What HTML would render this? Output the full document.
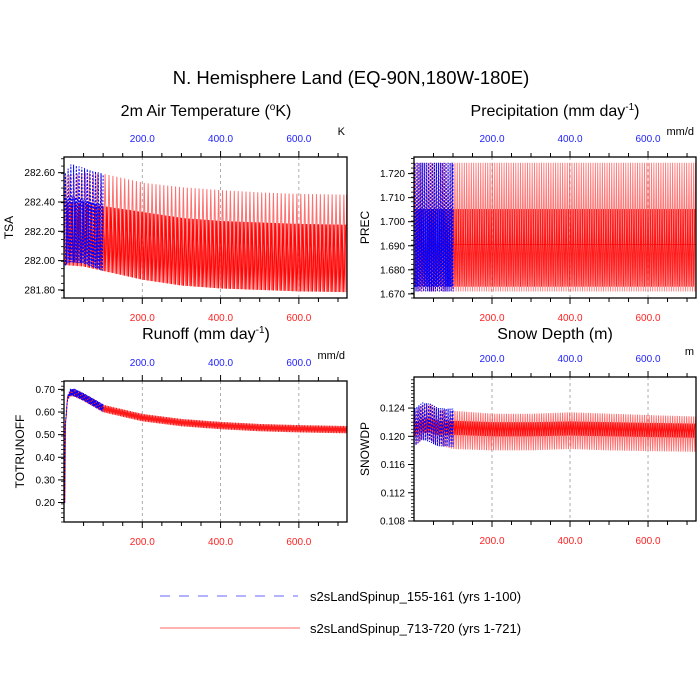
<!DOCTYPE html>
<html><head><meta charset="utf-8">
<style>
html,body{margin:0;padding:0;background:#fff;}
svg{display:block;font-family:"Liberation Sans",Arial,sans-serif;}
</style></head>
<body>
<svg id="chart" width="700" height="700" viewBox="0 0 700 700">
<text x="351" y="84" font-size="18.5" text-anchor="middle">N. Hemisphere Land (EQ-90N,180W-180E)</text>
<text x="206" y="116" font-size="16" text-anchor="middle">2m Air Temperature (<tspan font-size="10" dy="-6">o</tspan><tspan dy="6">K)</tspan></text>
<text x="555" y="116" font-size="16" text-anchor="middle">Precipitation (mm day<tspan font-size="10" dy="-6">-1</tspan><tspan dy="6">)</tspan></text>
<text x="206" y="339" font-size="16" text-anchor="middle">Runoff (mm day<tspan font-size="10" dy="-6">-1</tspan><tspan dy="6">)</tspan></text>
<text x="555" y="339" font-size="16" text-anchor="middle">Snow Depth (m)</text>
<g>
<line x1="160" y1="596" x2="298" y2="596" stroke="#6666ff" stroke-width="1" stroke-dasharray="10,9"/>
<text x="310" y="601" font-size="13">s2sLandSpinup_155-161 (yrs 1-100)</text>
<line x1="160" y1="628" x2="300" y2="628" stroke="#ff6666" stroke-width="1"/>
<text x="310" y="633" font-size="13">s2sLandSpinup_713-720 (yrs 1-721)</text>
</g>
</svg>
<script>
// ---- data (envelopes of the monthly series) ----
const tsaRedX = [0, 50, 100, 200, 300, 400, 500, 600, 722];
const tsaRedUpper = [282.58, 282.60, 282.59, 282.53, 282.50, 282.48, 282.465, 282.455, 282.45];
const tsaRedMid = [282.40, 282.39, 282.37, 282.33, 282.29, 282.27, 282.26, 282.25, 282.245];
const tsaRedLower = [281.97, 281.96, 281.93, 281.87, 281.83, 281.81, 281.80, 281.79, 281.785];
const tsaBlueX = [0, 15, 50, 100];
const tsaBlueUpper = [282.60, 282.66, 282.63, 282.59];
const tsaBlueMid = [282.42, 282.44, 282.41, 282.38];
const tsaBlueLower = [281.96, 281.99, 281.98, 281.93];

const precX = [0, 722];
const precUpper = [1.7245, 1.7245];
const precMid = [1.7053, 1.7053];
const precCenter = [1.6905, 1.6905];
const precLower = [1.671, 1.671];
const precLower2 = [1.673, 1.673];

const runX = [0, 3, 8, 15, 25, 50, 100, 200, 300, 400, 500, 600, 722];
const runRed = [0.20, 0.55, 0.66, 0.685, 0.685, 0.665, 0.615, 0.575, 0.553, 0.540, 0.531, 0.526, 0.522];
const runBlue = [0.20, 0.55, 0.66, 0.687, 0.687, 0.666, 0.617, 0.617, 0.617, 0.617, 0.617, 0.617, 0.617];
const runSpread = [0.0, 0.012, 0.014, 0.016, 0.016, 0.016, 0.016, 0.016, 0.016, 0.016, 0.016, 0.016, 0.016];

const snowX = [0, 20, 40, 60, 100, 200, 300, 400, 500, 600, 722];
const snowRedUpper = [0.1235, 0.1245, 0.1245, 0.1238, 0.1236, 0.1232, 0.1232, 0.1234, 0.1232, 0.1230, 0.1228];
const snowRedMid = [0.1220, 0.1225, 0.1225, 0.1222, 0.1222, 0.1220, 0.1220, 0.1221, 0.1220, 0.1219, 0.1218];
const snowRedLower = [0.1185, 0.1195, 0.1195, 0.1188, 0.1182, 0.1180, 0.1180, 0.1182, 0.1180, 0.1179, 0.1178];
const snowBlueUpper = [0.1240, 0.1248, 0.1246, 0.1240, 0.1239];
const snowBlueLower = [0.1185, 0.1195, 0.1192, 0.1186, 0.1185];

const xTicks = [200, 400, 600];
const xTickLabels = ["200.0", "400.0", "600.0"];
const tsaTicks = [281.8, 282.0, 282.2, 282.4, 282.6];
const tsaLabels = ["281.80", "282.00", "282.20", "282.40", "282.60"];
const precTicks = [1.67, 1.68, 1.69, 1.70, 1.71, 1.72];
const precLabels = ["1.670", "1.680", "1.690", "1.700", "1.710", "1.720"];
const runTicks = [0.2, 0.3, 0.4, 0.5, 0.6, 0.7];
const runLabels = ["0.20", "0.30", "0.40", "0.50", "0.60", "0.70"];
const snowTicks = [0.108, 0.112, 0.116, 0.120, 0.124];
const snowLabels = ["0.108", "0.112", "0.116", "0.120", "0.124"];

const NS = "http://www.w3.org/2000/svg";
const svg = document.getElementById("chart");
function mk(tag, attrs, parent) {
  const e = document.createElementNS(NS, tag);
  for (const k in attrs) e.setAttribute(k, attrs[k]);
  (parent || svg).appendChild(e);
  return e;
}
function interp(xs, ys, x) {
  if (x <= xs[0]) return ys[0];
  for (let i = 1; i < xs.length; i++) {
    if (x <= xs[i]) { const t = (x - xs[i-1]) / (xs[i] - xs[i-1]); return ys[i-1] + t * (ys[i] - ys[i-1]); }
  }
  return ys[ys.length - 1];
}

function panel(cfg) {
  const g = mk("g", {});
  
  
  const L = cfg.x, R = cfg.x + cfg.w, T = cfg.y, B = cfg.y + cfg.h;
  const xmin = 0, xmax = 723;
  const sx = v => L + (v - xmin) / (xmax - xmin) * cfg.w;
  const sy = v => B - (v - cfg.ymin) / (cfg.ymax - cfg.ymin) * cfg.h;
  const cid = "clip-" + cfg.name;
  const cp = mk("clipPath", { id: cid }, g);
  mk("rect", { x: L, y: T, width: cfg.w, height: cfg.h }, cp);
  xTicks.forEach(v => {
    const gl = mk("line", { x1: sx(v), x2: sx(v), y1: T, y2: B, stroke: "#999", "stroke-width": 0.8, "stroke-dasharray": "3,3" }, g);
    
    
  });
  const plot = mk("g", { "clip-path": "url(#" + cid + ")" }, g);
  cfg.draw(plot, sx, sy);
  const fr = mk("rect", { x: L, y: T, width: cfg.w, height: cfg.h, fill: "none", stroke: "#000", "stroke-width": 1.3 }, g);
  
  
  for (let v = 50; v < xmax; v += 50) {
    const major = v % 200 === 0;
    const len = major ? 6 : 4;
    mk("line", { x1: sx(v), x2: sx(v), y1: T, y2: T - len, stroke: "#000", "stroke-width": 1 }, g);
    mk("line", { x1: sx(v), x2: sx(v), y1: B, y2: B + len, stroke: "#000", "stroke-width": 1 }, g);
  }
  xTicks.forEach((v, i) => {
    const tl = mk("text", { x: sx(v), y: T - 15, "font-size": 10, fill: "#2222ff", "text-anchor": "middle" }, g);
    tl.textContent = xTickLabels[i];
    
    
    const bl = mk("text", { x: sx(v), y: B + 23, "font-size": 10, fill: "#ff2222", "text-anchor": "middle" }, g);
    bl.textContent = xTickLabels[i];
    
    
  });
  for (let v = cfg.ymin; v <= cfg.ymax + 1e-9; v += cfg.minor) {
    const yy = sy(v);
    if (yy < T - 0.5 || yy > B + 0.5) continue;
    mk("line", { x1: L, x2: L - 3, y1: yy, y2: yy, stroke: "#000", "stroke-width": 0.8 }, g);
  }
  cfg.ticks.forEach((v, i) => {
    mk("line", { x1: L, x2: L - 6, y1: sy(v), y2: sy(v), stroke: "#000", "stroke-width": 1 }, g);
    const t = mk("text", { x: L - 9, y: sy(v) + 3.5, "font-size": 10, "text-anchor": "end" }, g);
    t.textContent = cfg.labels[i];
    
    
  });
  const yt = mk("text", { x: 0, y: 0, "font-size": 12, "text-anchor": "middle", transform: "translate(" + cfg.ytx + "," + (T + cfg.h / 2) + ") rotate(-90)" }, g);
  yt.textContent = cfg.ytitle;
  
  
  const u = mk("text", { x: R - 2, y: T - 22, "font-size": 11, "text-anchor": "end" }, g);
  u.textContent = cfg.units;
  
  
}

function zig(parent, sx, sy, xs, lo, hi, x0, x1, period, color, dash, width, op, name) {
  let d = "";
  for (let t = x0; t <= x1; t += period) {
    const a = sx(t), b = sx(Math.min(t + period * 0.5, x1));
    d += (d ? "L" : "M") + a.toFixed(2) + "," + sy(interp(xs, lo, t)).toFixed(2);
    d += "L" + b.toFixed(2) + "," + sy(interp(xs, hi, t)).toFixed(2);
  }
  const p = mk("path", { d: d, fill: "none", stroke: color, "stroke-width": width, opacity: op }, parent);
  if (dash) p.setAttribute("stroke-dasharray", dash);
  
  
  return p;
}

panel({ name: "tsa-panel", x: 64, y: 157, w: 283, h: 141, ymin: 281.745, ymax: 282.707, minor: 0.05,
  ticks: tsaTicks, labels: tsaLabels, ytitle: "TSA", ytx: 13, units: "K",
  draw: (p, sx, sy) => {
    zig(p, sx, sy, tsaRedX, tsaRedLower, tsaRedUpper, 0, 722, 10, "#ff4040", null, 1, 0.75, "tsa-red-series");
    zig(p, sx, sy, tsaRedX, tsaRedLower, tsaRedMid, 5, 722, 10, "#ff0000", null, 1.2, 0.95, "tsa-red-series-inner");
    zig(p, sx, sy, tsaRedX, tsaRedLower, tsaRedMid, 2.5, 722, 10, "#ff0000", null, 1, 0.6, "tsa-red-series-inner2");
    zig(p, sx, sy, tsaBlueX, tsaBlueLower, tsaBlueUpper, 0, 100, 7, "#0000ff", "2,1.5", 1, 1, "tsa-blue-series");
    zig(p, sx, sy, tsaBlueX, tsaBlueLower, tsaBlueMid, 3.5, 100, 7, "#0000ff", "2,1.5", 1, 1, "tsa-blue-series-inner");
  }});

panel({ name: "prec-panel", x: 414, y: 157, w: 282, h: 141, ymin: 1.6683, ymax: 1.7269, minor: 0.002,
  ticks: precTicks, labels: precLabels, ytitle: "PREC", ytx: 369, units: "mm/d",
  draw: (p, sx, sy) => {
    zig(p, sx, sy, precX, precLower, precUpper, 0, 722, 6, "#ff4040", null, 0.9, 0.7, "prec-red-series");
    zig(p, sx, sy, precX, precLower2, precMid, 3, 722, 6, "#ff0000", null, 1, 0.85, "prec-red-series-inner");
    const c = mk("line", { x1: sx(0), x2: sx(722), y1: sy(precCenter[0]), y2: sy(precCenter[1]), stroke: "#ff0000", "stroke-width": 0.8, opacity: 0.7 }, p);
    
    
    zig(p, sx, sy, precX, precLower, precUpper, 0, 100, 5, "#0000ff", "2,1.5", 1, 1, "prec-blue-series");
    zig(p, sx, sy, precX, precLower2, precMid, 2.5, 100, 5, "#0000ff", "2,1.5", 1, 1, "prec-blue-series-inner");
  }});

panel({ name: "runoff-panel", x: 64, y: 381, w: 283, h: 141, ymin: 0.114, ymax: 0.737, minor: 0.02,
  ticks: runTicks, labels: runLabels, ytitle: "TOTRUNOFF", ytx: 24, units: "mm/d",
  draw: (p, sx, sy) => {
    const lo = runRed.map((v, i) => v - runSpread[i]);
    const hi = runRed.map((v, i) => v + runSpread[i]);
    zig(p, sx, sy, runX, lo, hi, 0, 722, 4, "#ff0000", null, 1, 0.9, "runoff-red-series");
    const blo = runBlue.map((v, i) => v - runSpread[i]);
    const bhi = runBlue.map((v, i) => v + runSpread[i]);
    zig(p, sx, sy, runX, blo, bhi, 0, 100, 3, "#0000ff", "2,1.5", 1, 1, "runoff-blue-series");
  }});

panel({ name: "snowdp-panel", x: 414, y: 377, w: 282, h: 144, ymin: 0.108, ymax: 0.1284, minor: 0.0005,
  ticks: snowTicks, labels: snowLabels, ytitle: "SNOWDP", ytx: 369, units: "m",
  draw: (p, sx, sy) => {
    zig(p, sx, sy, snowX, snowRedLower, snowRedUpper, 0, 722, 6, "#ff4040", null, 1, 0.75, "snowdp-red-series");
    zig(p, sx, sy, snowX, snowRedMid.map(v => v - 0.002), snowRedMid, 3, 722, 6, "#ff0000", null, 1.1, 0.9, "snowdp-red-series-inner");
    const bx = snowX.slice(0, 5);
    zig(p, sx, sy, bx, snowBlueLower, snowBlueUpper, 0, 100, 5, "#0000ff", "2,1.5", 1, 1, "snowdp-blue-series");
  }});
</script>
</body></html>
